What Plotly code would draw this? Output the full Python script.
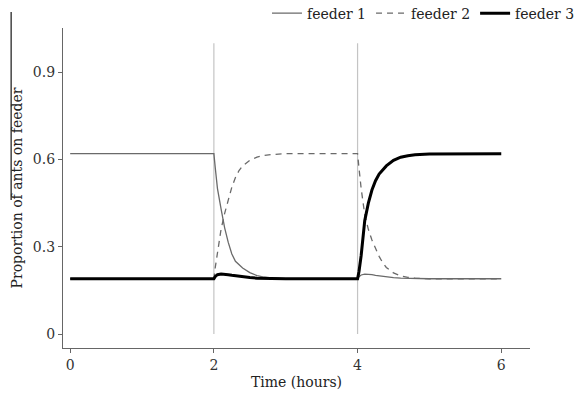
import plotly.graph_objects as go

# ---- data ----
time_h = [0.0, 2.0, 2.02, 2.05, 2.1, 2.15, 2.2, 2.25, 2.3, 2.35, 2.4, 2.5, 2.6, 2.7, 2.8, 3.0, 3.5,
          4.0, 4.02, 4.05, 4.1, 4.15, 4.2, 4.25, 4.3, 4.35, 4.4, 4.5, 4.6, 4.7, 4.8, 5.0, 5.5, 6.0]

feeder1 = [0.62, 0.62, 0.57, 0.50, 0.43, 0.365, 0.315, 0.275, 0.25, 0.237, 0.227, 0.211, 0.201, 0.196, 0.193, 0.19, 0.19,
           0.19, 0.197, 0.203, 0.206, 0.206, 0.204, 0.202, 0.200, 0.198, 0.197, 0.194, 0.192, 0.191, 0.19, 0.19, 0.19, 0.19]

feeder2 = [0.19, 0.19, 0.23, 0.285, 0.36, 0.415, 0.465, 0.505, 0.538, 0.562, 0.578, 0.597, 0.608, 0.614, 0.617, 0.62, 0.62,
           0.62, 0.57, 0.50, 0.41, 0.36, 0.323, 0.292, 0.267, 0.245, 0.229, 0.21, 0.2, 0.195, 0.192, 0.19, 0.19, 0.19]

feeder3 = [0.19, 0.19, 0.198, 0.204, 0.206, 0.206, 0.204, 0.202, 0.200, 0.198, 0.197, 0.194, 0.192, 0.191, 0.19, 0.19, 0.19,
           0.19, 0.215, 0.27, 0.39, 0.45, 0.495, 0.527, 0.55, 0.566, 0.578, 0.597, 0.608, 0.613, 0.616, 0.619, 0.62, 0.62]

switch_times = [2, 4]
x_ticks = [0, 2, 4, 6]
y_ticks = [0, 0.3, 0.6, 0.9]
y_tick_labels = ["0", "0.3", "0.6", "0.9"]

FONT = "DejaVu Serif"

fig = go.Figure()

for t in switch_times:
    fig.add_shape(type="line", xref="x", yref="y", x0=t, x1=t, y0=0, y1=1.0,
                  line=dict(color="#c4c4c4", width=1.2), layer="below")

fig.add_trace(go.Scatter(x=time_h, y=feeder1, mode="lines", name="feeder 1",
                         line=dict(color="#6a6a6a", width=1.3)))
fig.add_trace(go.Scatter(x=time_h, y=feeder2, mode="lines", name="feeder 2",
                         line=dict(color="#6a6a6a", width=1.3, dash="6px,5px")))
fig.add_trace(go.Scatter(x=time_h, y=feeder3, mode="lines", name="feeder 3",
                         line=dict(color="#000000", width=3)))

# artifact line at the left edge of the reference image
fig.add_shape(type="line", xref="paper", yref="paper", x0=-0.111, x1=-0.111, y0=0.4625, y1=1.05,
              line=dict(color="#444444", width=1.5))

fig.update_layout(
    width=574, height=397,
    margin=dict(l=63, r=44, t=28, b=49, autoexpand=False),
    paper_bgcolor="white", plot_bgcolor="white",
    font=dict(family=FONT, size=14, color="#333333"),
    showlegend=True,
    legend=dict(orientation="h", x=1.107, xanchor="right", y=1.045, yanchor="middle",
                font=dict(family=FONT, size=14, color="#222222"),
                itemwidth=30, bgcolor="rgba(0,0,0,0)", tracegroupgap=0),
    xaxis=dict(range=[-0.1, 6.4], tickvals=x_ticks, showgrid=False, zeroline=False,
               showline=True, linecolor="#666666", linewidth=1.3,
               ticks="outside", ticklen=4, tickcolor="#666666",
               tickfont=dict(family=FONT, size=14, color="#333333"),
               title=dict(text="Time (hours)", standoff=5,
                          font=dict(family=FONT, size=14, color="#222222"))),
    yaxis=dict(range=[-0.048, 1.052], tickvals=y_ticks, ticktext=y_tick_labels,
               showgrid=False, zeroline=False,
               showline=True, linecolor="#666666", linewidth=1.3,
               ticks="outside", ticklen=4, tickcolor="#666666",
               tickfont=dict(family=FONT, size=14, color="#333333"),
               title=dict(text="Proportion of ants on feeder", standoff=6,
                          font=dict(family=FONT, size=14, color="#222222"))),
)

fig.write_html("out.html")
